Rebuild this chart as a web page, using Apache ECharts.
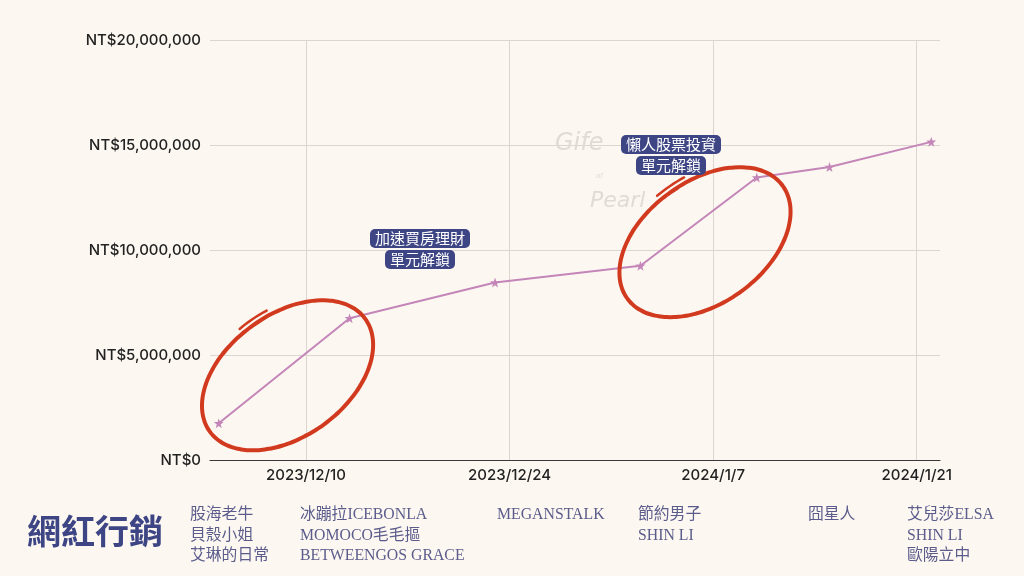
<!DOCTYPE html>
<html>
<head>
<meta charset="utf-8">
<script src="https://cdn.jsdelivr.net/npm/echarts@6/dist/echarts.min.js"></script>
<style>
html,body{margin:0;padding:0;background:#fcf8f1;}
#c{width:1024px;height:576px;}
</style>
</head>
<body>
<div id="c"></div>
<script>
// ---- data ----
const pointDates = ['2023-12-04','2023-12-13','2023-12-23','2024-01-02','2024-01-10','2024-01-15','2024-01-22'];
const pointValues = [1750000, 6750000, 8450000, 9250000, 13450000, 13950000, 15150000];
const tickDates = ['2023-12-10','2023-12-24','2024-01-07','2024-01-21'];
const tickLabels = ['2023/12/10','2023/12/24','2024/1/7','2024/1/21'];
const yTicks = [0, 5000000, 10000000, 15000000, 20000000];
const annotations = [
  ['加速買房理財','單元解鎖'],
  ['懶人股票投資','單元解鎖']
];
const circledSegments = [[0,1],[3,4]];
const title = '網紅行銷';
const nameColumns = [
  ['股海老牛','貝殼小姐','艾琳的日常'],
  ['冰蹦拉ICEBONLA','MOMOCO毛毛摳','BETWEENGOS GRACE'],
  ['MEGANSTALK'],
  ['節約男子','SHIN LI'],
  ['囧星人'],
  ['艾兒莎ELSA','SHIN LI','歐陽立中']
];

// ---- helpers ----
const BASE = Date.UTC(2023, 11, 10);
function dayOffset(s){ const p = s.split('-').map(Number); return (Date.UTC(p[0], p[1]-1, p[2]) - BASE) / 86400000; }
const xs = pointDates.map(dayOffset);
const tickXs = tickDates.map(dayOffset);
const seriesData = xs.map((x,i)=>[x, pointValues[i]]);

const STAR = 'path://M12,0 L14.9,8.6 L24,8.6 L16.6,14 L19.4,22.8 L12,17.4 L4.6,22.8 L7.4,14 L0,8.6 L9.1,8.6 Z';
const GRID_COLOR = '#dcd6cf';
const LINE_COLOR = '#c485b9';
const INDIGO = '#3d4584';
const NAME_COLOR = '#5c5c8c';

const chart = echarts.init(document.getElementById('c'), null, {renderer:'canvas'});
const option = {
  backgroundColor: '#fcf8f1',
  animation: false,
  grid: {left: 210, right: 84, top: 40, bottom: 116, containLabel: false},
  xAxis: {
    type: 'value',
    min: -6.6, max: 43.6,
    splitLine: {show: false},
    axisLine: {show: true, lineStyle: {color: '#3a3a3a', width: 1.2}},
    axisTick: {show: false, customValues: tickXs},
    axisLabel: {
      customValues: tickXs,
      margin: 8,
      fontFamily: 'Inter, "Noto Sans", sans-serif',
      fontWeight: 500,
      fontSize: 15, color: '#222',
      formatter: function(v){ const i = tickXs.indexOf(v); return i >= 0 ? tickLabels[i] : ''; }
    }
  },
  yAxis: {
    type: 'value',
    min: yTicks[0], max: yTicks[yTicks.length-1], interval: yTicks[1]-yTicks[0],
    axisLine: {show: false},
    axisTick: {show: false},
    splitLine: {lineStyle: {color: GRID_COLOR, width: 1}},
    axisLabel: {
      margin: 9,
      fontFamily: 'Inter, "Noto Sans", sans-serif',
      fontWeight: 500,
      fontSize: 15, color: '#222',
      formatter: v => 'NT$' + v.toLocaleString('en-US')
    }
  },
  series: [{
    type: 'line',
    data: seriesData,
    symbol: STAR,
    symbolSize: 10,
    z: 5,
    lineStyle: {color: LINE_COLOR, width: 2},
    itemStyle: {color: LINE_COLOR},
    markLine: {
      silent: true, symbol: 'none', animation: false,
      label: {show: false},
      lineStyle: {color: GRID_COLOR, type: 'solid', width: 1},
      data: tickXs.map(x => ({xAxis: x}))
    }
  }]
};
chart.setOption(option);

// ---- decorations ----
const gfx = [];
const ellipseOffsets = [[3,4],[6,20]];
function ell(cx, cy, a, b, u, v, t, r){
  return [cx + r*(a*Math.cos(t)*u[0] + b*Math.sin(t)*v[0]), cy + r*(a*Math.cos(t)*u[1] + b*Math.sin(t)*v[1])];
}
circledSegments.forEach((seg, k) => {
  const p1 = chart.convertToPixel({gridIndex:0}, seriesData[seg[0]]);
  const p2 = chart.convertToPixel({gridIndex:0}, seriesData[seg[1]]);
  const cx = (p1[0]+p2[0])/2 + ellipseOffsets[k][0];
  const cy = (p1[1]+p2[1])/2 + ellipseOffsets[k][1];
  const a = 94, b = 60, phi = 36*Math.PI/180;
  const u = [Math.cos(phi), -Math.sin(phi)], v = [Math.sin(phi), Math.cos(phi)];
  const pts = [];
  const t0 = 4.7, t1 = t0 + 2*Math.PI + 0.15;
  for (let t = t0; t <= t1; t += 0.05) {
    const r = 1 + 0.03*Math.sin((t - t0) * 0.5);
    pts.push(ell(cx, cy, a, b, u, v, t, r));
  }
  gfx.push({type:'polyline', z:50, shape:{points: pts, smooth: 0.3}, style:{stroke:'#d23a1f', lineWidth:4, fill:null, lineCap:'round', lineJoin:'round'}});
  const hp = [];
  for (let t = 4.6; t <= 4.92; t += 0.04) hp.push(ell(cx, cy, a, b, u, v, t, 1.09));
  gfx.push({type:'polyline', z:50, shape:{points: hp}, style:{stroke:'#d23a1f', lineWidth:2.5, fill:null, lineCap:'round'}});
});

// watermark
const WM = '#e0dbd4';
gfx.push({type:'text', z:1, left: 555, top: 132, style:{text:'Gife', font:'italic 200 24px "DejaVu Sans", sans-serif', fill: WM}});
gfx.push({type:'text', z:1, left: 596, top: 173, style:{text:'of', font:'italic 200 7px "DejaVu Sans", sans-serif', fill: WM}});
gfx.push({type:'text', z:1, left: 590, top: 190, style:{text:'Pearl', font:'italic 200 22px "DejaVu Sans", sans-serif', fill: WM}});

// annotation labels
const annotPos = [[420, 228], [671, 134]];
annotations.forEach((lines, k) => {
  gfx.push({
    type:'text', z:80, x: annotPos[k][0], y: annotPos[k][1],
    style:{
      text: lines.map(l => '{a|' + l + '}').join('\n'),
      align:'center', verticalAlign:'top',
      rich:{a:{backgroundColor: INDIGO, fill:'#ffffff', color:'#ffffff', fontSize:15, fontFamily:'"Noto Sans CJK TC", sans-serif', padding:[2,5,2,5], borderRadius:5, lineHeight:21, align:'center'}}
    }
  });
});

// title
gfx.push({type:'text', z:80, left: 27, top: 514, style:{text: title, font:'bold 34px "Noto Sans CJK TC", sans-serif', fill: INDIGO}});

// name columns
const colX = [190, 300, 497, 638, 808, 907];
nameColumns.forEach((col, k) => {
  col.forEach((name, j) => {
    gfx.push({type:'text', z:80, left: colX[k], top: 507 + j*20.5, style:{text: name, font:'15.8px "Liberation Serif", "DejaVu Serif", "Noto Sans CJK TC", serif', fill: NAME_COLOR}});
  });
});

chart.setOption({graphic: gfx});
</script>
</body>
</html>
